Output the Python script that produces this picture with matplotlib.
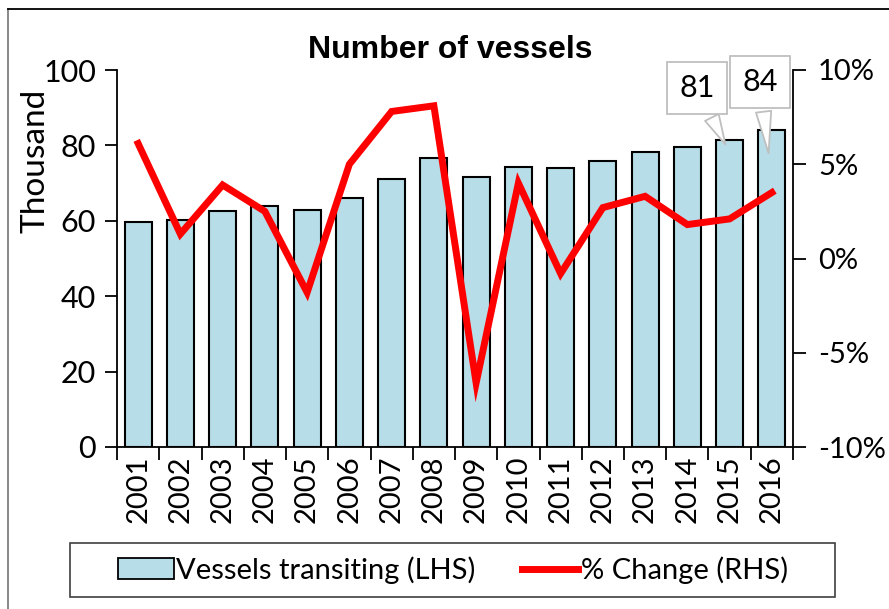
import numpy as np
import matplotlib
matplotlib.use("Agg")
import matplotlib.pyplot as plt
from matplotlib.lines import Line2D
from matplotlib.patches import Patch, Rectangle

years = ["2001", "2002", "2003", "2004", "2005", "2006", "2007", "2008",
         "2009", "2010", "2011", "2012", "2013", "2014", "2015", "2016"]
vessels = [59.6, 60.2, 62.6, 64.0, 62.9, 66.0, 71.0, 76.7,
           71.7, 74.4, 73.9, 75.8, 78.2, 79.6, 81.3, 84.1]
pct_change = [6.1, 1.3, 3.9, 2.5, -1.8, 5.0, 7.8, 8.1,
              -6.6, 4.0, -0.8, 2.7, 3.3, 1.8, 2.1, 3.5]
left_ticks = [0, 20, 40, 60, 80, 100]
right_ticks = [-10, -5, 0, 5, 10]
right_labels = ["-10%", "-5%", "0%", "5%", "10%"]

plt.rcParams['font.family'] = ['Lato', 'DejaVu Sans']

fig = plt.figure(figsize=(8.89, 6.09), dpi=100)
ax = fig.add_axes([117/889, 1-447/609, 676/889, 377/609])

x = np.arange(len(years))
ax.bar(x, vessels, width=0.64, color="#b7dde8", edgecolor="black", linewidth=1.5, zorder=2)
ax.set_xlim(-0.5, len(years)-0.5)
ax.set_ylim(0, 100)
ax.set_yticks(left_ticks)
ax.set_yticklabels([str(v) for v in left_ticks], fontsize=22)
ax.set_xticks(x)
ax.set_xticklabels(years, rotation=90, fontsize=21)
ax.set_xticks(np.arange(-0.5, len(years)), minor=True)
ax.tick_params(axis="x", which="major", length=0, pad=6)
ax.tick_params(axis="x", which="minor", length=9, width=1.3, direction="out")
ax.tick_params(axis="y", length=9, width=1.3, direction="out", pad=6)
ax.set_ylabel("Thousand", fontsize=24)
ax.yaxis.set_label_coords(-0.099, 0.76)
ax.spines["top"].set_visible(False)
ax.spines["right"].set_visible(False)
for s in ["left", "bottom"]:
    ax.spines[s].set_linewidth(1.3)

ax2 = ax.twinx()
ax2.plot(x, pct_change, color="red", linewidth=5, solid_joinstyle="miter", zorder=3)
ax2.set_ylim(-10, 10)
ax2.set_yticks(right_ticks)
ax2.set_yticklabels(right_labels, fontsize=21)
ax2.tick_params(axis="y", length=9, width=1.3, direction="out", pad=9)
ax2.spines["top"].set_visible(False)
ax2.spines["left"].set_visible(False)
ax2.spines["bottom"].set_visible(False)
ax2.spines["right"].set_linewidth(1.3)

# callouts on the last two bars, drawn on top of the line axes
callout_style = dict(boxstyle="square,pad=0.4", fc="white", ec="#bfbfbf", lw=1.3)
arrow_style = dict(arrowstyle="wedge,tail_width=0.5,shrink_factor=0.5",
                   fc="white", ec="#bfbfbf", lw=1.3)
for i, tx, ty, dy in [(14, 13.23, 95.2, 1.7), (15, 14.72, 96.8, 6.9)]:
    ax2.annotate(str(round(vessels[i])), xy=(i - 0.07, (vessels[i] - dy) / 5 - 10),
                 xytext=(tx, ty / 5 - 10), ha="center", va="center", fontsize=22,
                 bbox=callout_style, arrowprops=arrow_style, zorder=5)

fig.text(0.507, 1-50/609, "Number of vessels", ha="center", va="center",
         fontsize=23, fontweight="bold", family="Liberation Sans")

handles = [Patch(facecolor="#b7dde8", edgecolor="black", linewidth=1.3),
           Line2D([0], [0], color="red", linewidth=5)]
fig.legend(handles, ["Vessels transiting (LHS)", "% Change (RHS)"],
           loc="center", bbox_to_anchor=(453/889, 1-570/609), ncol=2,
           frameon=False, fontsize=21, handlelength=1.9, handletextpad=0.1,
           columnspacing=1.6)
fig.add_artist(Rectangle((70/889, 1-597/609), 765/889, 54/609, transform=fig.transFigure,
                         fill=False, ec="#404040", lw=1.2))

# outer frame of the chart area
fig.add_artist(Line2D([8/889, 8/889], [0, 1-9/609], transform=fig.transFigure, color="#7f7f7f", lw=1.3))
fig.add_artist(Line2D([8/889, 1], [1-9/609, 1-9/609], transform=fig.transFigure, color="black", lw=1.3))

fig.savefig("out.png", dpi=100)
